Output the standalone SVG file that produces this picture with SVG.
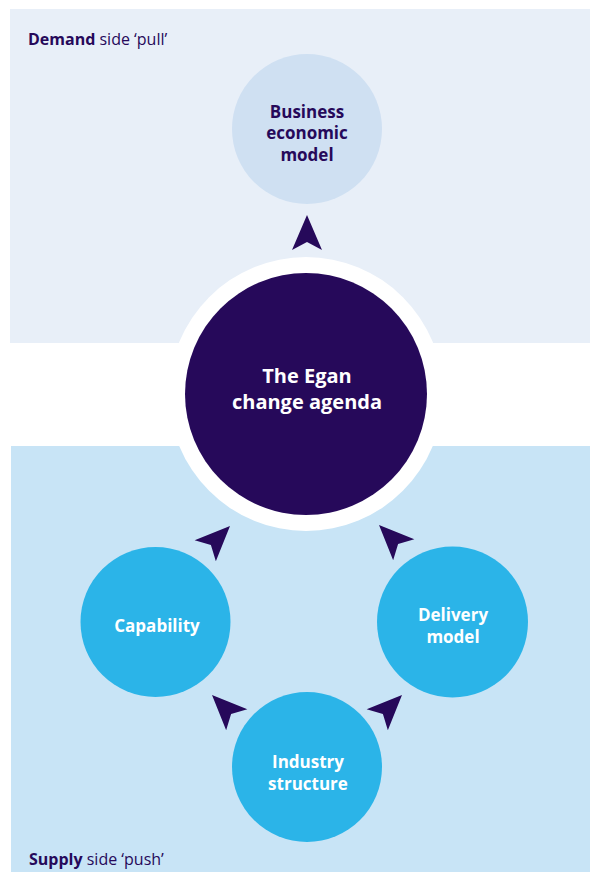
<svg xmlns="http://www.w3.org/2000/svg" width="590" height="872" viewBox="0 0 590 872">
<defs>
<style>
.lbl{font-family:"Open Sans","Liberation Sans",sans-serif;font-weight:700;text-anchor:middle}
.dark{fill:#26095a}
.white{fill:#ffffff}
.side{font-family:"Open Sans","Liberation Sans",sans-serif;font-size:16px;fill:#26095a}
.arrow{fill:#26095a}
.satellite{fill:#2bb4e8}
</style>
<path id="arr" d="M0,0 L15,35 L0,27 L-15,35 Z"/>
</defs>
<rect width="590" height="872" fill="#ffffff"/>
<g id="demand-panel">
<rect x="10" y="9" width="580" height="334" fill="#e8eff8"/>
<text class="side" x="28" y="45"><tspan font-weight="700">Demand</tspan> side ‘pull’</text>
</g>
<g id="supply-panel">
<rect x="11" y="446" width="579" height="426" fill="#c8e4f6"/>
<text class="side" x="29" y="865"><tspan font-weight="700">Supply</tspan> side ‘push’</text>
</g>
<g id="business-economic-model">
<circle cx="307" cy="129" r="75" fill="#cfe0f2"/>
<text class="lbl dark" font-size="17"><tspan x="307" y="117.5">Business</tspan><tspan x="307" y="139">economic</tspan><tspan x="307" y="160.5">model</tspan></text>
</g>
<g id="egan-change-agenda">
<circle cx="306" cy="394" r="137" fill="#ffffff"/>
<circle cx="306" cy="394" r="121" fill="#26095a"/>
<text class="lbl white" font-size="20"><tspan x="307" y="383">The Egan</tspan><tspan x="307" y="409">change agenda</tspan></text>
</g>
<g id="capability">
<circle class="satellite" cx="155.5" cy="622" r="75"/>
<text class="lbl white" font-size="17" x="157" y="632">Capability</text>
</g>
<g id="delivery-model">
<circle class="satellite" cx="452.5" cy="622" r="75.5"/>
<text class="lbl white" font-size="17"><tspan x="453" y="621">Delivery</tspan><tspan x="453" y="642.5">model</tspan></text>
</g>
<g id="industry-structure">
<circle class="satellite" cx="307" cy="767" r="75"/>
<text class="lbl white" font-size="17"><tspan x="308" y="768">Industry</tspan><tspan x="308" y="789.5">structure</tspan></text>
</g>
<g id="connectors">
<use href="#arr" class="arrow" transform="translate(307,215)"/>
<use href="#arr" class="arrow" transform="translate(230,526) rotate(45)"/>
<use href="#arr" class="arrow" transform="translate(379,525) rotate(-45)"/>
<use href="#arr" class="arrow" transform="translate(212,695) rotate(-45)"/>
<use href="#arr" class="arrow" transform="translate(402,695) rotate(45)"/>
</g>
</svg>
